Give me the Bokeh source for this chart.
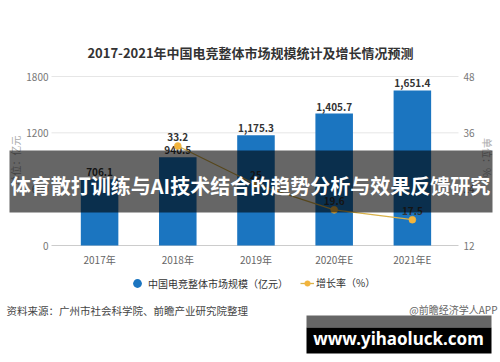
import math
from bokeh.plotting import figure
from bokeh.models import Range1d, Label, BoxAnnotation, Legend, LegendItem, ColumnDataSource
from bokeh.embed import file_html
from bokeh.resources import INLINE
from bokeh.core.properties import value

# ---- data ----
title_text = "2017-2021年中国电竞整体市场规模统计及增长情况预测"
categories = ["2017年", "2018年", "2019年", "2020年E", "2021年E"]
market_size = [706.1, 940.5, 1175.3, 1405.7, 1651.4]
growth_categories = ["2018年", "2019年", "2020年E", "2021年E"]
growth_rate = [33.2, 25.0, 19.6, 17.5]
growth_labels = ["33.2", "25", "19.6", "17.5"]
left_ticks = [0, 600, 1200, 1800]
right_ticks = [12, 24, 36, 48]
series_names = ["中国电竞整体市场规模（亿元）", "增长率（%）"]
left_unit = "单位：亿元"
right_unit = "单位：%"
source_text = "资料来源：广州市社会科学院、前瞻产业研究院整理"
credit_text = "@前瞻经济学人APP"
banner_text = "体育散打训练与AI技术结合的趋势分析与效果反馈研究"
site_text = "www.yihaoluck.com"

CJK = "Noto Sans CJK SC"
BAR = "#1b75c0"
LINE = "#d9b24a"
DOT = "#f2b43c"

# ---- layout (pixels) ----
W, H = 500, 362
PL, PR, PT, PB = 51, 458, 76, 245
X0, X1 = -0.615, 4.59
px_x = (PR - PL) / (X1 - X0)
vmin, vmax = left_ticks[0], left_ticks[-1]
rmin, rmax = right_ticks[0], right_ticks[-1]
px_v = (PB - PT) / (vmax - vmin)
px_r = (PB - PT) / (rmax - rmin)

x_range = Range1d(X0 - PL / px_x, X1 + (W - PR) / px_x)
y_range = Range1d(vmin - (H - PB) / px_v, vmax + PT / px_v)
r_range = Range1d(rmin - (H - PB) / px_r, rmax + PT / px_r)

xs = list(range(len(categories)))
gxs = [categories.index(c) for c in growth_categories]

p = figure(width=W, height=H, output_backend="svg", toolbar_location=None,
           x_range=x_range, y_range=y_range, x_axis_location=None, y_axis_location=None,
           min_border=0)
p.extra_y_ranges = {"rate": r_range}
p.outline_line_color = None
p.background_fill_color = "white"
p.border_fill_color = "white"
p.grid.visible = False

# grid lines & axis line (from tick arrays)
p.segment(x0=[X0] * len(left_ticks), x1=[X1] * len(left_ticks), y0=left_ticks, y1=left_ticks,
          line_color=["#cccccc"] + ["#e6e6e6"] * (len(left_ticks) - 1), line_width=1)

# tick labels
p.text(x=[X0] * len(left_ticks), y=left_ticks, text=[str(t) for t in left_ticks],
       x_offset=-3, text_align="right", text_baseline="middle", text_font_size="10px",
       text_color="#777777", text_font=value(CJK))
p.text(x=[X1] * len(right_ticks), y=right_ticks, text=[str(t) for t in right_ticks],
       y_range_name="rate", x_offset=5, text_align="left", text_baseline="middle",
       text_font_size="10px", text_color="#777777", text_font=value(CJK))
p.text(x=xs, y=[vmin] * len(xs), text=categories, y_offset=6, text_align="center",
       text_baseline="top", text_font_size="10px", text_color="#666666", text_font=value(CJK))

# bars
bar_src = ColumnDataSource(dict(x=xs, top=market_size,
                                lab=[f"{v:,.1f}" for v in market_size]))
p.vbar(x="x", top="top", width=0.48, source=bar_src, fill_color=BAR, line_color=None)
p.text(x="x", y="top", text="lab", source=bar_src, text_align="center",
       text_baseline="bottom", y_offset=-3, text_font_size="10px",
       text_color="#333333", text_font_style="bold", text_font=value(CJK))

# line
line_src = ColumnDataSource(dict(x=gxs, y=growth_rate, lab=growth_labels))
ln = p.line(x="x", y="y", source=line_src, y_range_name="rate", line_color=LINE, line_width=1.3)
dots = p.scatter(x="x", y="y", source=line_src, y_range_name="rate", size=7,
                 fill_color=DOT, line_color=DOT, line_width=0.5)
p.text(x="x", y="y", text="lab", source=line_src, y_range_name="rate",
       text_align="center", text_baseline="bottom", y_offset=-5,
       text_font_size="10px", text_color="#333333", text_font_style="bold",
       text_font=value(CJK))

# legend (marker-only proxy for the bar series)
proxy = p.scatter(x=[xs[0]], y=[float("nan")], size=9, fill_color=BAR, line_color=None)
leg1 = Legend(items=[LegendItem(label=series_names[0], renderers=[proxy])],
              location=(126, 68), orientation="horizontal", glyph_width=22, glyph_height=22,
              label_height=22, padding=0, margin=0, spacing=0, border_line_color=None,
              background_fill_alpha=0, label_standoff=0, label_text_font_size="10px",
              label_text_color="#333333", label_text_font=CJK)
leg2 = Legend(items=[LegendItem(label=series_names[1], renderers=[ln, dots])],
              location=(300, 72), orientation="horizontal", glyph_width=14, glyph_height=14,
              label_height=14, padding=0, margin=0, spacing=0, border_line_color=None,
              background_fill_alpha=0, label_standoff=2, label_text_font_size="10px",
              label_text_color="#333333", label_text_font=CJK)
p.add_layout(leg1, "center")
p.add_layout(leg2, "center")

# texts (screen units: from canvas bottom-left)
def lab(text, x, y, size, color, bold=False, align="center", angle=0, font=CJK):
    p.add_layout(Label(text=text, x=x, y=y, x_units="screen", y_units="screen",
                       text_align=align, text_baseline="middle", text_font_size=size,
                       text_color=color, text_font_style="bold" if bold else "normal",
                       angle=angle, text_font=font))

lab(title_text, 250, 310, "13px", "#333333", bold=True)
lab(left_unit, 15, 202, "10px", "#aaaaaa", angle=math.pi / 2)
lab(right_unit, 487, 205, "10px", "#aaaaaa", angle=-math.pi / 2)
lab(source_text, 6, 52, "10.5px", "#444444", align="left")
lab(credit_text, 497, 53, "10px", "#666666", align="right")

def box(l, r, b, t, color, alpha):
    p.add_layout(BoxAnnotation(left=l, right=r, bottom=b, top=t, left_units="screen",
                               right_units="screen", bottom_units="screen", top_units="screen",
                               fill_color=color, fill_alpha=alpha, line_color=None))

# overlay banner
box(9, 492, 150, 212, "black", 0.6)
lab(banner_text, 250, 177, "20px", "white", bold=True)

# bottom site banner
box(306, 491, 35, 47, "#666666", 1)
box(306, 491, 9, 35, "black", 1)
lab(site_text, 398, 24, "17px", "white", bold=True, font="Noto Sans")

open("out.html", "w").write(file_html(p, INLINE))
